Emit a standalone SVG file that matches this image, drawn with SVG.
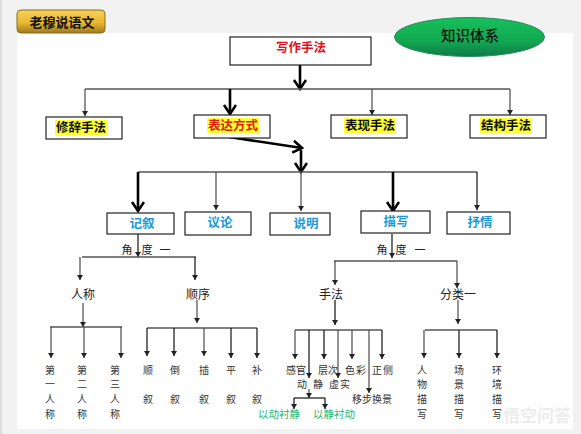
<svg xmlns="http://www.w3.org/2000/svg" width="581" height="434" viewBox="0 0 581 434">
<style>
text{font-family:"Noto Sans CJK SC","Liberation Sans",sans-serif;text-anchor:middle}
.box{fill:#fff;stroke:#222;stroke-width:1.2}
.t1{font-size:12.5px;font-weight:700;fill:#111}
.blue{font-size:12.5px;font-weight:700;fill:#1c9ad6}
.s{font-size:10px;fill:#333}
.w{letter-spacing:1px}
.m{font-size:12px;fill:#222}
.a1{font-size:11px;fill:#222}
.g{font-size:10.5px;fill:#22b573}
.hl{fill:#ffff33}
.c path{fill:none;stroke:#4a4a4a;stroke-width:1.2}
.c path.a{marker-end:url(#thin)}
.c path.h{stroke-width:1.5;stroke:#555}
.c path.b{stroke:#000;stroke-width:2.6;marker-end:url(#thick)}
.c path.d{stroke:#111;stroke-width:1.2;marker-end:url(#thin)}
.c path.n{stroke:#111;stroke-width:1.2}
</style>
<defs>
<marker id="thin" markerUnits="userSpaceOnUse" markerWidth="7" markerHeight="7" refX="5" refY="3" orient="auto"><path d="M0,0L5,3L0,6Z" fill="#222"/></marker>
<marker id="thick" markerUnits="userSpaceOnUse" markerWidth="14" markerHeight="16" refX="10" refY="7" orient="auto"><path d="M1,1L10,7L1,13" fill="none" stroke="#000" stroke-width="2.6"/></marker>
<linearGradient id="gold" x1="0" y1="0" x2="0" y2="1"><stop offset="0" stop-color="#f7d25a"/><stop offset="0.55" stop-color="#e8b830"/><stop offset="1" stop-color="#a07a20"/></linearGradient>
<linearGradient id="green" x1="0" y1="0" x2="0" y2="1"><stop offset="0" stop-color="#16c05c"/><stop offset="0.6" stop-color="#12a850"/><stop offset="1" stop-color="#0f7a48"/></linearGradient>
</defs>
<rect width="581" height="434" fill="#f2f2f2"/>
<rect x="0" y="0" width="2" height="434" fill="#dcdcdc"/>
<rect x="17" y="33" width="556" height="396" fill="#fff"/>
<g class="c" id="connectors">
<path class="b" d="M300,64V89"/>
<path class="h" d="M85,89H510"/>
<path class="a" d="M85,89V116"/>
<path class="b" d="M230,89V114"/>
<path class="a" d="M372,89V115"/>
<path class="a" d="M510,89V115"/>
<path class="b" d="M229,137L302,148"/>
<path class="b" d="M301,150V172"/>
<path class="h" d="M138,172H477"/>
<path class="b" d="M138,172V211"/>
<path class="a" d="M216,172V210"/>
<path class="a" d="M301,172V211"/>
<path class="b" d="M393,172V211"/>
<path class="d" d="M477,172V210"/>
<path class="d" d="M138,234V257"/>
<path class="h" d="M82,257H196"/>
<path class="a" d="M80,257V280"/>
<path class="d" d="M195,257V280"/>
<path class="a" d="M83,303V327"/>
<path class="a" d="M197,300V323"/>
<path class="h" d="M50,327H122"/>
<path class="a" d="M51,327V358"/>
<path class="a" d="M84,327V358"/>
<path class="a" d="M121,327V358"/>
<path class="h" d="M147,328H257"/>
<path class="d" d="M147,328V356"/>
<path class="d" d="M174,328V356"/>
<path class="a" d="M204,328V356"/>
<path class="d" d="M231,328V358"/>
<path class="d" d="M257,328V358"/>
<path class="d" d="M392,234V258"/>
<path class="h" d="M334,261H457"/>
<path class="a" d="M335,261V285"/>
<path class="a" d="M457,261V288"/>
<path class="d" d="M335,300V325"/>
<path class="h" d="M295,330H382"/>
<path class="a" d="M295,330V359"/>
<path class="d" d="M309,330V378"/>
<path class="d" d="M324,330V359"/>
<path class="a" d="M338,330V378"/>
<path class="a" d="M352,330V359"/>
<path class="a" d="M369,330V393"/>
<path class="d" d="M382,330V359"/>
<path class="a" d="M309,389V398"/>
<path class="n" d="M294,398H325"/>
<path class="d" d="M294,398V409"/>
<path class="d" d="M325,398V409"/>
<path class="a" d="M458,300V324"/>
<path class="h" d="M425,330H497"/>
<path class="a" d="M424,330V358"/>
<path class="d" d="M459,330V358"/>
<path class="d" d="M497,330V358"/>
</g>
<g id="brand"><rect x="17" y="10" width="88" height="23" rx="4" fill="url(#gold)" stroke="#8a6d20"/><text x="62" y="26.5" style="font-size:13px;font-weight:700" fill="#111">老穆说语文</text></g>
<g id="system"><ellipse cx="469.5" cy="37" rx="75" ry="19.5" fill="url(#green)" stroke="#2a8a5a"/><text x="470" y="41" style="font-size:14.5px;font-weight:500" fill="#111">知识体系</text></g>
<g id="n-root"><rect class="box" x="230" y="37" width="141" height="28"/><text x="301" y="52" class="t1" style="fill:#e0101e">写作手法</text></g>
<g id="n-xiuci"><rect class="box" x="46" y="117" width="76" height="22"/><rect class="hl" x="55" y="120" width="52" height="15"/><text x="81" y="132" class="t1">修辞手法</text></g>
<g id="n-biaoda"><rect class="box" x="194" y="115" width="76" height="23"/><rect class="hl" x="207" y="118" width="52" height="15"/><text x="233" y="130" class="t1" style="fill:#e0200e">表达方式</text></g>
<g id="n-biaoxian"><rect class="box" x="331" y="115" width="76" height="23"/><rect class="hl" x="344" y="118" width="52" height="15"/><text x="370" y="130" class="t1">表现手法</text></g>
<g id="n-jiegou"><rect class="box" x="470" y="115" width="76" height="23"/><rect class="hl" x="480" y="118" width="52" height="15"/><text x="506" y="130" class="t1">结构手法</text></g>
<g id="n-jixu"><rect class="box" x="107" y="213" width="67" height="21"/><text x="142" y="228" class="blue">记叙</text></g>
<g id="n-yilun"><rect class="box" x="185" y="212" width="66" height="23"/><text x="220" y="227" class="blue">议论</text></g>
<g id="n-shuoming"><rect class="box" x="270" y="213" width="60" height="22"/><text x="306" y="228" class="blue">说明</text></g>
<g id="n-miaoxie"><rect class="box" x="361" y="211" width="69" height="22"/><text x="396" y="226" class="blue">描写</text></g>
<g id="n-shuqing"><rect class="box" x="447" y="212" width="63" height="22"/><text x="480" y="227" class="blue">抒情</text></g>
<g id="n-angle1"><text class="a1" y="254"><tspan x="127">角</tspan><tspan x="147">度</tspan><tspan x="165">一</tspan></text></g>
<g id="n-angle2"><text class="a1" y="254"><tspan x="382">角</tspan><tspan x="401">度</tspan><tspan x="420">一</tspan></text></g>
<g id="n-renchen"><text x="83" y="299" class="m">人称</text></g>
<g id="n-shunxu"><text x="198" y="299" class="m">顺序</text></g>
<g id="n-shoufa"><text x="331" y="299" class="m">手法</text></g>
<g id="n-fenlei"><text x="458" y="299" class="m">分类一</text></g>
<g id="n-p1"><text class="s"><tspan x="50" y="374">第</tspan><tspan x="50" y="388">一</tspan><tspan x="50" y="403">人</tspan><tspan x="50" y="418">称</tspan></text></g>
<g id="n-p2"><text class="s"><tspan x="82" y="374">第</tspan><tspan x="82" y="388">二</tspan><tspan x="82" y="403">人</tspan><tspan x="82" y="418">称</tspan></text></g>
<g id="n-p3"><text class="s"><tspan x="115" y="374">第</tspan><tspan x="115" y="388">三</tspan><tspan x="115" y="403">人</tspan><tspan x="115" y="418">称</tspan></text></g>
<g id="n-s1"><text class="s"><tspan x="148" y="374">顺</tspan><tspan x="148" y="403">叙</tspan></text></g>
<g id="n-s2"><text class="s"><tspan x="175" y="374">倒</tspan><tspan x="175" y="403">叙</tspan></text></g>
<g id="n-s3"><text class="s"><tspan x="204" y="374">插</tspan><tspan x="204" y="403">叙</tspan></text></g>
<g id="n-s4"><text class="s"><tspan x="231" y="374">平</tspan><tspan x="231" y="403">叙</tspan></text></g>
<g id="n-s5"><text class="s"><tspan x="257" y="374">补</tspan><tspan x="257" y="403">叙</tspan></text></g>
<g id="n-f1"><text x="296" y="374" class="s">感官</text></g>
<g id="n-f2"><text x="328" y="374" class="s">层次</text></g>
<g id="n-f3"><text x="356" y="374" class="s w">色彩</text></g>
<g id="n-f4"><text x="383" y="374" class="s w">正侧</text></g>
<g id="n-f5"><text class="s" y="388"><tspan x="302">动</tspan><tspan x="318">静</tspan></text></g>
<g id="n-f6"><text x="340" y="388" class="s w">虚实</text></g>
<g id="n-f7"><text x="372" y="403" class="s">移步换景</text></g>
<g id="n-g1"><text x="279" y="418" class="g">以动衬静</text></g>
<g id="n-g2"><text x="334" y="418" class="g">以静衬动</text></g>
<g id="n-c1"><text class="s"><tspan x="422" y="374">人</tspan><tspan x="422" y="388">物</tspan><tspan x="422" y="403">描</tspan><tspan x="422" y="418">写</tspan></text></g>
<g id="n-c2"><text class="s"><tspan x="459" y="374">场</tspan><tspan x="459" y="388">景</tspan><tspan x="459" y="403">描</tspan><tspan x="459" y="418">写</tspan></text></g>
<g id="n-c3"><text class="s"><tspan x="497" y="374">环</tspan><tspan x="497" y="388">境</tspan><tspan x="497" y="403">描</tspan><tspan x="497" y="418">写</tspan></text></g>
<g id="watermark"><text x="537" y="422" style="font-size:17px;font-weight:700" fill="#ececec">悟空问答</text></g>
</svg>
